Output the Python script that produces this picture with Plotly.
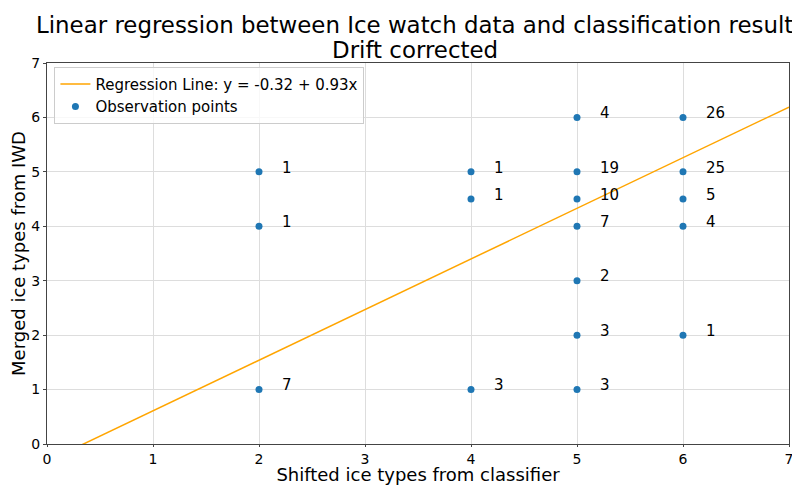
import plotly.graph_objects as go

# Data
obs_x = [2, 2, 2, 4, 4, 4, 5, 5, 5, 5, 5, 5, 5, 6, 6, 6, 6, 6]
obs_y = [5, 4, 1, 5, 4.5, 1, 6, 5, 4.5, 4, 3, 2, 1, 6, 5, 4.5, 4, 2]
counts = [1, 1, 7, 1, 1, 3, 4, 19, 10, 7, 2, 3, 3, 26, 25, 5, 4, 1]
intercept = -0.32
slope = 0.93
line_x = [0, 7]
line_y = [intercept + slope * v for v in line_x]
title_lines = ["Linear regression between Ice watch data and classification result", "Drift corrected"]

FONT = "DejaVu Sans"

fig = go.Figure()
fig.add_trace(go.Scatter(
    x=line_x, y=line_y, mode="lines",
    line=dict(color="orange", width=1.5),
    name="Regression Line: y = -0.32 + 0.93x",
))
fig.add_trace(go.Scatter(
    x=obs_x, y=obs_y, mode="markers",
    marker=dict(color="#1f77b4", size=7),
    name="Observation points",
))

for xv, yv, c in zip(obs_x, obs_y, counts):
    fig.add_annotation(
        x=xv + 0.2, y=yv + 0.08, text=str(c), showarrow=False,
        xanchor="left", yanchor="middle",
        font=dict(family=FONT, size=15, color="black"),
    )

for i, (t, yp) in enumerate(zip(title_lines, [1.099, 1.034])):
    fig.add_annotation(
        x=0.4955, y=yp, xref="paper", yref="paper", text=t, showarrow=False,
        xanchor="center", yanchor="middle", borderpad=0,
        font=dict(family=FONT, size=22.9, color="black"),
    )

fig.update_layout(
    width=792, height=485,
    margin=dict(l=47, r=3, t=63, b=41),
    paper_bgcolor="white", plot_bgcolor="white",
    font=dict(family=FONT, color="black"),
    showlegend=True,
    legend=dict(
        x=0.01, y=0.99, xanchor="left", yanchor="top",
        bgcolor="rgba(255,255,255,0.8)", bordercolor="#cccccc", borderwidth=1,
        font=dict(family=FONT, size=15, color="black"),
    ),
)
fig.update_xaxes(
    range=[0, 7], dtick=1, showgrid=True, gridcolor="#dddddd", gridwidth=1,
    showline=True, linecolor="#444444", linewidth=1, mirror=True,
    ticks="outside", ticklen=2, tickcolor="#444444", zeroline=False,
    automargin=False, ticklabeloverflow="allow",
    tickfont=dict(family=FONT, size=14, color="black"),
    title=dict(text="Shifted ice types from classifier", font=dict(family=FONT, size=18, color="black"), standoff=2),
)
fig.update_yaxes(
    range=[0, 7], dtick=1, showgrid=True, gridcolor="#dddddd", gridwidth=1,
    showline=True, linecolor="#444444", linewidth=1, mirror=True,
    ticks="outside", ticklen=3, tickcolor="#444444", zeroline=False,
    automargin=False,
    tickfont=dict(family=FONT, size=14, color="black"),
    title=dict(text="Merged ice types from IWD", font=dict(family=FONT, size=18, color="black"), standoff=0),
)

fig.write_html("out.html")
